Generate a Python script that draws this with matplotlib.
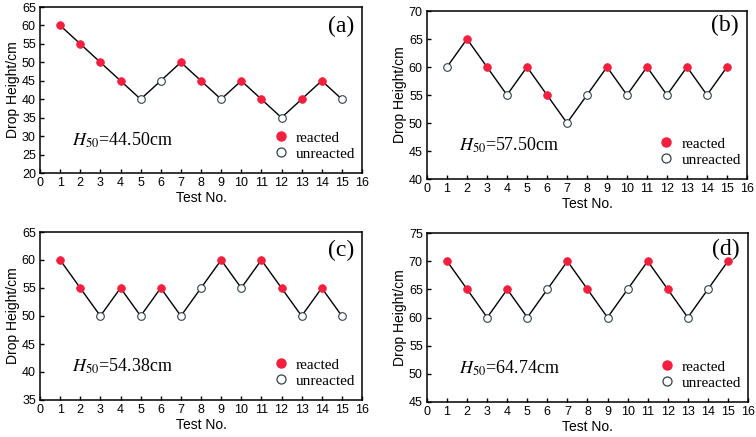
import matplotlib
matplotlib.use("Agg")
import matplotlib.pyplot as plt
from matplotlib.lines import Line2D

plt.rcParams["mathtext.fontset"] = "stix"

test_no = list(range(1, 16))

heights_a = [60, 55, 50, 45, 40, 45, 50, 45, 40, 45, 40, 35, 40, 45, 40]
reacted_a = [1, 1, 1, 1, 0, 0, 1, 1, 0, 1, 1, 0, 1, 1, 0]
heights_b = [60, 65, 60, 55, 60, 55, 50, 55, 60, 55, 60, 55, 60, 55, 60]
reacted_b = [0, 1, 1, 0, 1, 1, 0, 0, 1, 0, 1, 0, 1, 0, 1]
heights_c = [60, 55, 50, 55, 50, 55, 50, 55, 60, 55, 60, 55, 50, 55, 50]
reacted_c = [1, 1, 0, 1, 0, 1, 0, 0, 1, 0, 1, 1, 0, 1, 0]
heights_d = [70, 65, 60, 65, 60, 65, 70, 65, 60, 65, 70, 65, 60, 65, 70]
reacted_d = [1, 1, 0, 1, 0, 0, 1, 1, 0, 0, 1, 1, 0, 0, 1]

panel_labels = ["(a)", "(b)", "(c)", "(d)"]
h50_values = ["44.50", "57.50", "54.38", "64.74"]
y_limits = [(20, 65), (40, 70), (35, 65), (45, 75)]

RED = "#f2203e"
EDGE = "#33434a"

W, H = 756, 437
fig = plt.figure(figsize=(W / 100, H / 100), dpi=100)

# pixel boxes: left, right, top, bottom
boxes = [(40, 362, 7, 173), (427, 747, 11, 179), (40, 362, 232, 400), (427, 748, 233, 402)]
label_y = [0.88, 0.915, 0.893, 0.9]

datasets = [(heights_a, reacted_a), (heights_b, reacted_b), (heights_c, reacted_c), (heights_d, reacted_d)]

sans = ["Liberation Sans", "DejaVu Sans"]
serif = ["Liberation Serif", "DejaVu Serif"]

for i, ((hts, rct), box) in enumerate(zip(datasets, boxes)):
    l, r, t, b = box
    ax = fig.add_axes([l / W, 1 - b / H, (r - l) / W, (b - t) / H])
    ax.plot(test_no, hts, color="black", lw=1.0, zorder=1)
    xr = [x for x, f in zip(test_no, rct) if f]
    yr = [y for y, f in zip(hts, rct) if f]
    xu = [x for x, f in zip(test_no, rct) if not f]
    yu = [y for y, f in zip(hts, rct) if not f]
    ax.plot(xr, yr, "o", ms=5.5, mfc=RED, mec=RED, mew=0.6, ls="none", zorder=3)
    ax.plot(xu, yu, "o", ms=5.5, mfc="white", mec=EDGE, mew=0.8, ls="none", zorder=3)
    lo, hi = y_limits[i]
    ax.set_xlim(0, 16)
    ax.set_ylim(lo, hi)
    ax.set_xticks(range(0, 17))
    ax.set_yticks(range(lo, hi + 1, 5))
    ax.tick_params(direction="in", length=3, width=1, labelsize=9, pad=3)
    for lab in ax.get_xticklabels() + ax.get_yticklabels():
        lab.set_family(sans)
    for s in ax.spines.values():
        s.set_linewidth(1.1)
    ax.set_xlabel("Test No.", family=sans, fontsize=10, labelpad=1)
    ax.set_ylabel("Drop Height/cm", family=sans, fontsize=10, labelpad=1)
    ax.text(0.975, label_y[i], panel_labels[i], transform=ax.transAxes, ha="right", va="center",
            family=serif, fontsize=17)
    ax.text(0.10, 0.2, r"$H_{50}$=" + h50_values[i] + "cm", transform=ax.transAxes,
            ha="left", va="center", family=serif, fontsize=13)
    handles = [
        Line2D([], [], marker="o", ls="none", ms=6.5, mfc=RED, mec=RED),
        Line2D([], [], marker="o", ls="none", ms=6.5, mfc="white", mec=EDGE, mew=0.9),
    ]
    leg = ax.legend(handles, ["reacted", "unreacted"], loc="lower left",
                    bbox_to_anchor=(0.69, 0.01), frameon=False, handlelength=1.0,
                    handletextpad=0.5, labelspacing=0.15, borderpad=0.2,
                    prop={"family": serif, "size": 11})

fig.savefig("out.png", dpi=100)
